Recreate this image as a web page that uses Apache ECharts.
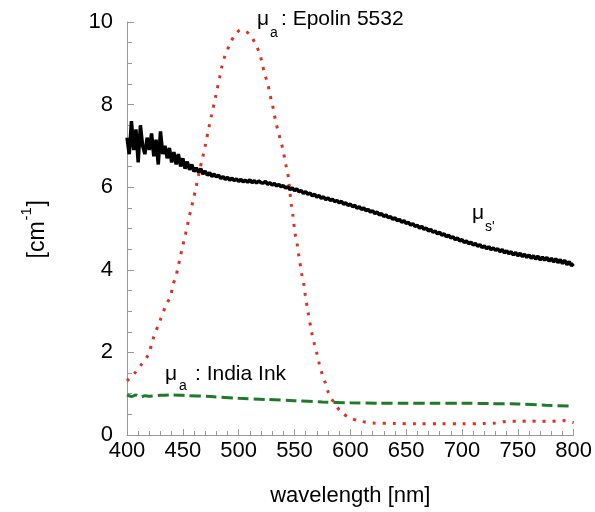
<!DOCTYPE html>
<html><head><meta charset="utf-8">
<script src="https://cdn.jsdelivr.net/npm/echarts@6/dist/echarts.min.js"></script>
<style>html,body{margin:0;padding:0;background:#fff}#c{width:595px;height:512px}</style>
</head><body><div id="c"></div>
<script>
// x ticks / y ticks
const xTicks = [400, 450, 500, 550, 600, 650, 700, 750, 800];
const yTicks = [0, 2, 4, 6, 8, 10];

// mu_s' (black), sampled every 2 nm from 400 to 800 (10 values per row = 20 nm)
const musStart = 400, musStep = 2;
const musValues = [
7.2,6.8,7.6,6.9,7.4,6.6,7.5,7.0,6.8,7.2,
6.9,7.3,6.75,7.15,6.55,7.35,6.8,7.0,6.7,6.95,
6.6,6.85,6.55,6.8,6.5,6.7,6.45,6.62,6.42,6.55,
6.38,6.47,6.36,6.45,6.32,6.39,6.29,6.35,6.26,6.32,
6.25,6.29,6.21,6.26,6.19,6.24,6.17,6.22,6.16,6.2,
6.14,6.19,6.13,6.17,6.12,6.18,6.11,6.16,6.1,6.15,
6.11,6.1,6.14,6.07,6.11,6.05,6.09,6.03,6.07,6.01,
6.04,5.98,6.01,5.94,5.98,5.92,5.96,5.89,5.92,5.85,
5.89,5.83,5.86,5.79,5.83,5.76,5.8,5.73,5.77,5.7,
5.74,5.68,5.71,5.65,5.68,5.62,5.66,5.59,5.62,5.56,
5.59,5.53,5.56,5.49,5.53,5.46,5.5,5.43,5.46,5.4,
5.43,5.36,5.4,5.33,5.36,5.29,5.33,5.26,5.29,5.22,
5.26,5.19,5.22,5.15,5.19,5.12,5.15,5.08,5.12,5.05,
5.08,5.01,5.05,4.98,5.01,4.94,4.98,4.91,4.94,4.87,
4.91,4.84,4.87,4.8,4.84,4.77,4.8,4.73,4.77,4.7,
4.73,4.66,4.7,4.63,4.67,4.6,4.64,4.57,4.61,4.54,
4.58,4.51,4.56,4.49,4.53,4.47,4.51,4.44,4.49,4.41,
4.46,4.39,4.44,4.36,4.42,4.34,4.4,4.32,4.38,4.3,
4.36,4.28,4.34,4.26,4.33,4.24,4.31,4.23,4.3,4.21,
4.28,4.19,4.27,4.17,4.25,4.15,4.23,4.12,4.2,4.1,
4.15];

// mu_a Epolin 5532 (red dotted)
const epolinWl = [400,407,413,419,423,430,435,439,441,444,446,448,450,452,454,456,458,460,462,464,468,470,
473.5,475.6,479.4,483.3,485,487.7,491.5,496,502,510,515,519,521,523.3,526.2,527.7,530,532,533.6,536,538.4,
540.4,542.2,544,545,546,547,548.4,550.5,552.3,553.5,555,556.4,558.2,559.4,562,565.6,567.7,570,572.2,574.5,
577.5,580.4,585,592,600,610,620,640,660,680,700,720,730,740,750,760,770,780,790,800];
const epolinVal = [1.31,1.5,1.71,1.94,2.3,2.8,3.15,3.36,3.62,3.86,4.1,4.35,4.59,4.81,5.06,5.31,5.54,5.78,6.02,6.29,6.75,6.99,
7.47,7.73,8.2,8.7,8.92,9.18,9.42,9.66,9.81,9.7,9.47,9.22,9.0,8.74,8.5,8.28,8.03,7.75,7.54,7.29,7.05,
6.81,6.55,6.33,6.1,5.86,5.6,5.36,4.88,4.64,4.4,4.16,3.91,3.68,3.44,3.0,2.46,2.22,1.98,1.72,1.5,
1.27,1.03,0.8,0.55,0.41,0.33,0.29,0.28,0.27,0.27,0.27,0.28,0.29,0.33,0.33,0.34,0.33,0.33,0.35,0.3];

// mu_a India Ink (green dashed)
const inkWl = [400,404,408,412,416,420,430,440,450,475,500,525,550,575,600,625,650,675,700,725,750,775,800];
const inkVal = [0.97,0.93,0.97,0.92,0.95,0.94,0.96,0.97,0.96,0.93,0.89,0.86,0.83,0.80,0.78,0.77,0.77,0.77,0.77,0.76,0.75,0.72,0.70];

const musData = musValues.map((v, i) => [musStart + i * musStep, v]);
const epolinData = epolinWl.map((w, i) => [w, epolinVal[i]]);
const inkData = inkWl.map((w, i) => [w, inkVal[i]]);

const FONT = 'Liberation Sans, Arial, sans-serif';
const chart = echarts.init(document.getElementById('c'), null, {renderer: 'canvas'});
const axisGray = '#999999';
function txt(left, top, text, size) {
  return {type: 'text', left: left, top: top, style: {text: text, fontSize: size, fontFamily: FONT, fill: '#000'}};
}
chart.setOption({
  animation: false,
  grid: {left: 127, right: 18, top: 22, bottom: 76},
  xAxis: {
    type: 'value', min: xTicks[0], max: xTicks[xTicks.length - 1], interval: 50,
    axisLine: {lineStyle: {color: axisGray, width: 1}},
    axisTick: {inside: true, length: 6, lineStyle: {color: axisGray}},
    minorTick: {show: true, splitNumber: 5, length: 4, lineStyle: {color: axisGray}},
    splitLine: {show: false},
    axisLabel: {color: '#000', fontSize: 22, fontFamily: FONT, margin: 5},
    name: 'wavelength [nm]', nameLocation: 'middle', nameGap: 50,
    nameTextStyle: {color: '#000', fontSize: 22, fontFamily: FONT}
  },
  yAxis: {
    type: 'value', min: yTicks[0], max: yTicks[yTicks.length - 1], interval: 2,
    axisLine: {show: true, lineStyle: {color: axisGray, width: 1}},
    axisTick: {show: true, inside: true, length: 7, lineStyle: {color: axisGray}},
    minorTick: {show: true, splitNumber: 4, length: 5, lineStyle: {color: axisGray}},
    splitLine: {show: false},
    axisLabel: {color: '#000', fontSize: 22, fontFamily: FONT, margin: 14}
  },
  series: [
    {type: 'line', data: inkData, symbol: 'none', smooth: 0.3,
     lineStyle: {color: '#1f7a2a', width: 3, type: [11, 5]}},
    {type: 'line', data: epolinData, symbol: 'none', smooth: 0.3,
     lineStyle: {color: '#e0301e', width: 3, type: [3, 7]}},
    {type: 'line', data: musData, symbol: 'none',
     lineStyle: {color: '#000', width: 3.5}}
  ],
  graphic: [
    txt(257, 9, 'μ', 21), txt(270, 26, 'a', 14), txt(281, 9, ': Epolin 5532', 21),
    txt(472, 203, 'μ', 21), txt(485, 220, "s'", 14),
    txt(165, 364, 'μ', 21), txt(179, 379, 'a', 14), txt(195, 364, ': India Ink', 21),
    {type: 'group', left: 19, top: 200, rotation: Math.PI / 2, children: [
      {type: 'text', x: 0, y: 0, style: {text: '[cm', fontSize: 23, fontFamily: FONT, fill: '#000'}},
      {type: 'text', x: 38, y: -7, style: {text: '-1', fontSize: 15, fontFamily: FONT, fill: '#000'}},
      {type: 'text', x: 52, y: 0, style: {text: ']', fontSize: 23, fontFamily: FONT, fill: '#000'}}
    ]}
  ]
});
</script></body></html>
